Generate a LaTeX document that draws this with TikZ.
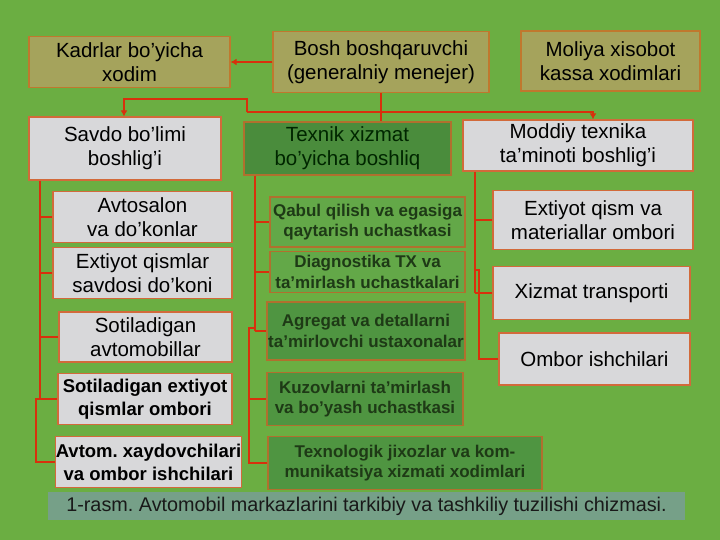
\documentclass[tikz,border=0pt]{standalone}
\usepackage{fontspec}
\setmainfont{Liberation Sans}
\usetikzlibrary{arrows.meta}
\frenchspacing
\definecolor{bg}{HTML}{6BAE42}
\definecolor{khaki}{HTML}{A5A35C}
\definecolor{kborder}{HTML}{C0782E}
\definecolor{lightg}{HTML}{D8D8DA}
\definecolor{lborder}{HTML}{D26A3A}
\definecolor{texg}{HTML}{4A8C3C}
\definecolor{midA}{HTML}{63A848}
\definecolor{midB}{HTML}{4F9541}
\definecolor{mborder}{HTML}{B0702E}
\definecolor{midtext}{HTML}{1E3A16}
\definecolor{linered}{HTML}{D8300C}
\definecolor{capband}{HTML}{76A088}
\begin{document}
\begin{tikzpicture}[x=1pt,y=-1pt,
  box/.style={draw, line width=1.3pt, inner sep=0pt, align=center, text=black},
  khakibox/.style={box, fill=khaki, draw=kborder, font=\fontsize{20.5}{24}\selectfont},
  lightbox/.style={box, fill=lightg, draw=lborder, font=\fontsize{20.5}{24}\selectfont},
  lightbold/.style={lightbox, font=\bfseries\fontsize{18.5}{23}\selectfont},
  texbox/.style={box, fill=texg, draw=mborder, text=black!85!green, font=\fontsize{20.5}{24}\selectfont},
  midbox/.style={box, fill=midA, draw=mborder, text=midtext, font=\bfseries\fontsize{17}{20.5}\selectfont},
  middark/.style={midbox, fill=midB},
  conn/.style={draw=linered, line width=2pt},
  arr/.style={conn, -{Latex[length=6pt,width=7pt]}},
  capstyle/.style={fill=capband, inner sep=0pt, text=black!90, font=\fontsize{19.8}{22}\selectfont}
]
\fill[bg] (0,0) rectangle (720,540);
\useasboundingbox (0,0) rectangle (720,540);

% top row
\node[khakibox, minimum width=201, minimum height=51] (kadr) at (129.5,62) {Kadrlar bo’yicha\\xodim};
\node[khakibox, minimum width=216, minimum height=61] (bosh) at (381,62) {Bosh boshqaruvchi\\(generalniy menejer)};
\node[khakibox, minimum width=179, minimum height=60] (moliya) at (610.5,61) {Moliya xisobot\\kassa xodimlari};

% second row
\node[lightbox, minimum width=192, minimum height=63] (savdo) at (125,148.5) {Savdo bo’limi\\boshlig’i};
\node[texbox, minimum width=207, minimum height=53] (texnik) at (347.5,148.5) {Texnik xizmat\\bo’yicha boshliq};
\node[lightbox, minimum width=230, minimum height=51] (moddiy) at (578,145.5) {Moddiy texnika\\ta’minoti boshlig’i};

% left column
\node[lightbox, minimum width=179, minimum height=51] (avtosalon) at (142.5,217) {Avtosalon\\va do’konlar};
\node[lightbox, minimum width=179, minimum height=51] (extq1) at (142.5,273) {Extiyot qismlar\\savdosi do’koni};
\node[lightbox, minimum width=173, minimum height=50] (sotavt) at (145.5,337) {Sotiladigan\\avtomobillar};
\node[lightbold, minimum width=174, minimum height=51] (sotext) at (145,399) {Sotiladigan extiyot\\qismlar ombori};
\node[lightbold, minimum width=181, minimum height=51] (avtom) at (148.5,462) {Avtom. xaydovchilari\\va ombor ishchilari};

% middle column
\node[midbox, minimum width=195, minimum height=50] (qabul) at (367.5,222) {Qabul qilish va egasiga\\qaytarish uchastkasi};
\node[midbox, minimum width=195, minimum height=41] (diag) at (367.5,272) {Diagnostika TX va\\ta’mirlash uchastkalari};
\node[middark, minimum width=198, minimum height=58] (agreg) at (366,331) {Agregat va detallarni\\ta’mirlovchi ustaxonalar};
\node[middark, minimum width=196, minimum height=53] (kuzov) at (365,399) {Kuzovlarni ta’mirlash\\va bo’yash uchastkasi};
\node[middark, minimum width=274, minimum height=53] (texno) at (405,463) {Texnologik jixozlar va kom-\\munikatsiya xizmati xodimlari};

% right column
\node[lightbox, minimum width=200, minimum height=59] (extq) at (593,220) {Extiyot qism va\\materiallar ombori};
\node[lightbox, minimum width=197, minimum height=53] (xizm) at (591.5,293) {Xizmat transporti};
\node[lightbox, minimum width=191, minimum height=52] (ombor) at (594.5,359) {Ombor ishchilari};

% caption
\node[capstyle, minimum width=637, minimum height=28] (cap) at (366.5,506) {1-rasm. Avtomobil markazlarini tarkibiy va tashkiliy tuzilishi chizmasi.};

% top connectors
\coordinate (j0) at (247,99);
\coordinate (j1) at (247,112);
\coordinate (j2) at (593,112);
\coordinate (j3) at (124,99);
\draw[arr] (bosh.west) -- (kadr.east);
\draw[conn] (bosh.south) -- (bosh.south |- texnik.north);
\draw[arr] (j1) -- (j2) -- (j2 |- moddiy.north);
\draw[arr] (j1) -- (j0) -- (j3) -- (j3 |- savdo.north);

% left connectors
\coordinate (lt) at (40,0);
\coordinate (lt2) at (36,0);
\draw[conn] (savdo.south -| lt) -- (sotext.west -| lt);
\foreach \n in {avtosalon,extq1,sotavt,sotext} \draw[conn] (\n.west -| lt) -- (\n.west);
\draw[conn] (sotext.west -| lt) -- (sotext.west -| lt2) -- (avtom.west -| lt2) -- (avtom.west);

% middle connectors
\coordinate (mt) at (255,0);
\coordinate (mt2) at (249,0);
\coordinate (mj) at (0,328);
\draw[conn] (texnik.south -| mt) -- (agreg.west -| mt);
\foreach \n in {qabul,diag,agreg} \draw[conn] (\n.west -| mt) -- (\n.west);
\draw[conn] (mj -| mt) -- (mj -| mt2) -- (texno.west -| mt2) -- (texno.west);
\draw[conn] (kuzov.west -| mt2) -- (kuzov.west);

% right connectors
\coordinate (rt) at (475,0);
\coordinate (rt2) at (479,0);
\coordinate (rj) at (0,270);
\draw[conn] (moddiy.south -| rt) -- (xizm.west -| rt);
\foreach \n in {extq,xizm} \draw[conn] (\n.west -| rt) -- (\n.west);
\draw[conn] (rj -| rt) -- (rj -| rt2) -- (ombor.west -| rt2) -- (ombor.west);
\end{tikzpicture}
\end{document}
